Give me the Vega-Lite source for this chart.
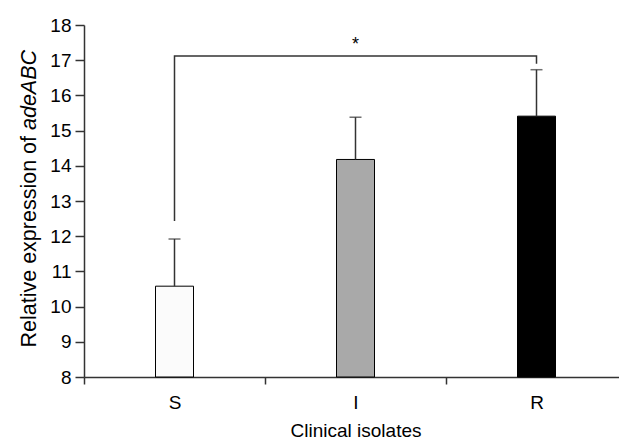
{
  "$schema": "https://vega.github.io/schema/vega-lite/v6.json",
  "autosize": {"type": "none"},
  "width": 535,
  "height": 352,
  "padding": {"left": 84, "top": 25, "right": 0, "bottom": 67},
  "background": "white",
  "config": {
    "view": {"stroke": null},
    "font": "Liberation Sans",
    "axis": {"grid": false, "labelFont": "Liberation Sans", "titleFont": "Liberation Sans", "titleFontWeight": "normal", "domainColor": "#333", "tickColor": "#333", "labelColor": "#000", "titleColor": "#000", "domainWidth": 1.5, "tickWidth": 1.5}
  },
  "datasets": {
    "bars": [
      {"cat": "S", "value": 10.58, "upper": 11.92},
      {"cat": "I", "value": 14.18, "upper": 15.38},
      {"cat": "R", "value": 15.41, "upper": 16.73}
    ],
    "bracket": [
      {"cat": "S", "y": 12.43, "order": 1},
      {"cat": "S", "y": 17.12, "order": 2},
      {"cat": "R", "y": 17.12, "order": 3},
      {"cat": "R", "y": 16.9, "order": 4}
    ],
    "star": [{"cat": "I", "y": 17.42, "label": "*"}]
  },
  "resolve": {"axis": {"y": "independent"}},
  "layer": [
    {
      "data": {"name": "bars"},
      "mark": {"type": "bar", "width": 38, "stroke": "#000", "strokeWidth": 1},
      "encoding": {
        "x": {"field": "cat", "type": "nominal", "sort": ["S", "I", "R"],
          "scale": {"domain": ["S", "I", "R"], "range": [0, 543], "paddingInner": 0, "paddingOuter": 0},
          "axis": {"title": "Clinical isolates", "labelAngle": 0, "labelFontSize": 19, "titleFontSize": 19, "tickSize": 7, "tickBand": "extent", "labelPadding": 9, "titlePadding": 9}},
        "y": {"field": "value", "type": "quantitative",
          "scale": {"domain": [8, 18], "nice": false, "zero": false},
          "axis": {"values": [8, 9, 10, 11, 12, 13, 14, 15, 16, 17, 18], "labelFontSize": 19, "tickSize": 9, "labelPadding": 4,
            "title": "Relative expression of", "titleFontSize": 21.5, "titleAngle": -90, "titleAlign": "left", "titleBaseline": "bottom", "titleX": -44, "titleY": 322}},
        "y2": {"datum": 8},
        "color": {"field": "cat", "type": "nominal", "scale": {"domain": ["S", "I", "R"], "range": ["#fbfbfb", "#a9a9a9", "#000000"]}, "legend": null}
      }
    },
    {
      "data": {"name": "bars"},
      "mark": {"type": "rule", "color": "#333", "strokeWidth": 1.5},
      "encoding": {
        "x": {"field": "cat", "type": "nominal", "sort": ["S", "I", "R"]},
        "y": {"field": "value", "type": "quantitative",
          "axis": {"orient": "left", "domain": false, "ticks": false, "labels": false,
            "title": "adeABC", "titleFontSize": 21.5, "titleFontStyle": "italic", "titleAngle": -90, "titleAlign": "left", "titleBaseline": "bottom", "titleX": -44, "titleY": 104.5}},
        "y2": {"field": "upper"}
      }
    },
    {
      "data": {"name": "bars"},
      "mark": {"type": "tick", "color": "#333", "thickness": 1.5, "size": 12, "orient": "horizontal"},
      "encoding": {
        "x": {"field": "cat", "type": "nominal", "sort": ["S", "I", "R"]},
        "y": {"field": "upper", "type": "quantitative", "axis": null}
      }
    },
    {
      "data": {"name": "bracket"},
      "mark": {"type": "line", "color": "#333", "strokeWidth": 1.5, "strokeJoin": "miter"},
      "encoding": {
        "x": {"field": "cat", "type": "nominal", "sort": ["S", "I", "R"]},
        "y": {"field": "y", "type": "quantitative", "axis": null},
        "order": {"field": "order", "type": "quantitative"}
      }
    },
    {
      "data": {"name": "star"},
      "mark": {"type": "text", "fontSize": 18, "baseline": "middle", "font": "Liberation Sans"},
      "encoding": {
        "x": {"field": "cat", "type": "nominal", "sort": ["S", "I", "R"]},
        "y": {"field": "y", "type": "quantitative", "axis": null},
        "text": {"field": "label"}
      }
    }
  ]
}
